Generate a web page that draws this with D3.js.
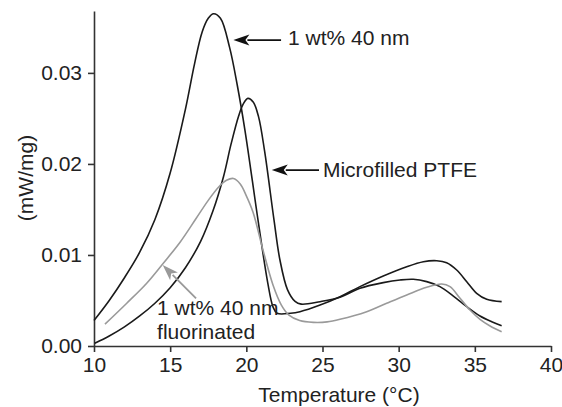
<!DOCTYPE html>
<html><head><meta charset="utf-8">
<script src="https://cdn.jsdelivr.net/npm/d3@7"></script>
<style>
html,body{margin:0;padding:0;background:#fff;}
text{font-family:"Liberation Sans",Arial,Helvetica,sans-serif;}
</style></head>
<body><svg id="chart" width="562" height="407"></svg>
<script>
// ---- data ----
const xTicks = [10, 15, 20, 25, 30, 35, 40];
const yTicks = [0, 0.01, 0.02, 0.03];
const xLabel = "Temperature (°C)";
const yLabel = "(mW/mg)";

// 1 wt% 40 nm (black)
const s40nmX = [10.00,11.0,12.0,13.0,14.0,15.0,16.0,16.6,17.1,17.5,17.85,18.3,18.9,19.4,19.91,20.77,21.4,21.75,22.02,22.9,23.52,24.84,26.15,27.46,28.99,30.53,31.62,32.50,33.15,33.81,34.47,35.12,35.78,36.76];
const s40nmY = [0.0028,0.0050,0.0075,0.0103,0.0139,0.0190,0.0260,0.0310,0.0345,0.0360,0.0365,0.0360,0.0328,0.0287,0.0237,0.0138,0.0070,0.0043,0.0036,0.0036,0.00377,0.00450,0.00542,0.00652,0.00769,0.00871,0.00926,0.00937,0.00915,0.00835,0.00706,0.00579,0.00513,0.00487];

// Microfilled PTFE (black)
const sMicroX = [10.05,11.0,12.0,13.0,14.0,15.0,16.0,17.0,17.8,18.5,19.0,19.5,19.8,20.1,20.45,20.8,21.2,21.82,22.2,22.7,23.2,23.6,24.84,26.15,27.46,28.99,30.09,30.96,31.84,32.71,33.59,34.47,35.34,36.11,36.76];
const sMicroY = [0.0003,0.0011,0.0021,0.0033,0.0047,0.0064,0.0086,0.0115,0.0148,0.0186,0.0222,0.0253,0.0266,0.0272,0.0268,0.0252,0.0214,0.0138,0.0095,0.0062,0.0049,0.0046,0.00487,0.00535,0.00634,0.00696,0.00725,0.00733,0.00707,0.00652,0.00549,0.00432,0.00330,0.00267,0.00223];

// 1 wt% 40 nm fluorinated (gray)
const sFluorX = [10.72,12.15,13.46,14.55,15.65,16.7,17.5,18.2,18.7,19.15,19.6,20.0,20.44,21.1,21.75,22.3,22.8,23.5,24.4,25.3,26.15,27.90,29.21,30.53,31.84,32.83,33.37,34.03,34.68,35.34,36.0,36.76];
const sFluorY = [0.0024,0.0047,0.0069,0.0091,0.0114,0.0140,0.0160,0.0175,0.0182,0.0184,0.0178,0.0165,0.0147,0.0105,0.0067,0.0045,0.0034,0.0028,0.0026,0.00265,0.00293,0.00377,0.00469,0.00560,0.00645,0.00681,0.00652,0.00524,0.00395,0.00293,0.00220,0.00157];

const seriesNames = ["1 wt% 40 nm", "Microfilled PTFE", "1 wt% 40 nm fluorinated"];

// ---- layout ----
const W = 562, H = 407;
const margin = {left: 94, top: 11, right: 11, bottom: 61};
const svg = d3.select("#chart");
const x = d3.scaleLinear().domain([10, 40]).range([margin.left, W - margin.right]);
const y = d3.scaleLinear().domain([0, 0.0368]).range([H - margin.bottom, margin.top]);
const FS = 21;

// axes
const xAxis = svg.append("g").attr("transform", `translate(0,${H - margin.bottom})`)
  .call(d3.axisBottom(x).tickValues(xTicks).tickFormat(d3.format("d")).tickSize(6).tickSizeOuter(0).tickPadding(5));
const yAxis = svg.append("g").attr("transform", `translate(${margin.left},0)`)
  .call(d3.axisLeft(y).tickValues(yTicks).tickFormat(d3.format(".2f")).tickSize(6).tickSizeOuter(0).tickPadding(6));
[xAxis, yAxis].forEach(g => {
  g.select(".domain").attr("stroke", "#333").attr("stroke-width", 1.6);
  g.selectAll(".tick line").attr("stroke", "#333").attr("stroke-width", 1.6);
  g.selectAll(".tick text").attr("fill", "#222").style("font-size", FS + "px").attr("font-family", null);
});

svg.append("text").attr("x", 339).attr("y", 402).attr("text-anchor", "middle")
  .attr("fill", "#222").style("font-size", FS + "px").text(xLabel);
svg.append("text").attr("transform", "translate(33,178) rotate(-90)").attr("text-anchor", "middle")
  .attr("fill", "#222").style("font-size", FS + "px").text(yLabel);

// curves
const line = d3.line().x(d => x(d[0])).y(d => y(d[1])).curve(d3.curveCatmullRom.alpha(0.5));
const series = [
  {xs: s40nmX, ys: s40nmY, color: "#1a1a1a"},
  {xs: sMicroX, ys: sMicroY, color: "#1a1a1a"},
  {xs: sFluorX, ys: sFluorY, color: "#9a9a9a"}
];
series.forEach(s => {
  svg.append("path").datum(s.xs.map((v, i) => [v, s.ys[i]]))
    .attr("fill", "none").attr("stroke", s.color).attr("stroke-width", 1.6).attr("d", line);
});

// annotations (anchored in data coordinates)
function arrow(tip, tail, color) {
  const x1 = x(tail[0]), y1 = y(tail[1]), x2 = x(tip[0]), y2 = y(tip[1]);
  const ang = Math.atan2(y2 - y1, x2 - x1);
  const L = 16, hw = 5.5;
  const bx = x2 - L * Math.cos(ang), by = y2 - L * Math.sin(ang);
  svg.append("line").attr("x1", x1).attr("y1", y1).attr("x2", bx + 2 * Math.cos(ang)).attr("y2", by + 2 * Math.sin(ang))
    .attr("stroke", color).attr("stroke-width", 1.8);
  const p = [[x2, y2], [bx - hw * Math.sin(ang), by + hw * Math.cos(ang)], [bx + 4 * Math.cos(ang), by + 4 * Math.sin(ang)], [bx + hw * Math.sin(ang), by - hw * Math.cos(ang)]];
  svg.append("path").attr("d", "M" + p.map(q => q.join(",")).join("L") + "Z").attr("fill", color);
}
arrow([19.15, 0.03361], [22.28, 0.03361], "#111");
arrow([21.67, 0.01933], [24.77, 0.01933], "#111");
arrow([14.51, 0.00890], [16.70, 0.00524], "#999");

function label(tx, ty, str) {
  svg.append("text").attr("x", x(tx)).attr("y", y(ty)).attr("fill", "#222")
    .style("font-size", FS + "px").text(str);
}
label(22.74, 0.03306, seriesNames[0]);
label(25.03, 0.01857, seriesNames[1]);
label(14.14, 0.00341, "1 wt% 40 nm");
label(14.14, 0.00077, "fluorinated");
</script></body></html>
